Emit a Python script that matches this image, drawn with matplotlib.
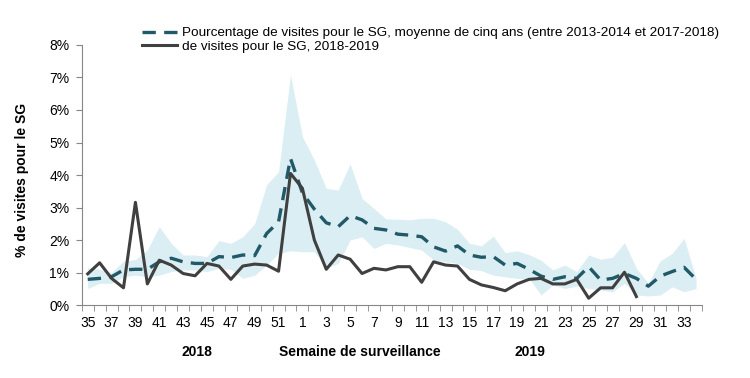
import numpy as np
import matplotlib.pyplot as plt
from matplotlib.ticker import FixedLocator, PercentFormatter

# surveillance weeks: 35..52 of 2018 then 1..34 of 2019
weeks = list(range(35, 53)) + list(range(1, 35))

# five-year average (%)
avg_pct = [0.79, 0.82, 0.87, 1.08, 1.10, 1.10, 1.33, 1.44, 1.33, 1.28, 1.28, 1.49,
           1.46, 1.54, 1.52, 2.20, 2.56, 4.51,
           3.45, 2.95, 2.53, 2.41, 2.75, 2.62, 2.36, 2.31, 2.18, 2.15, 2.10, 1.79,
           1.66, 1.82, 1.54, 1.47, 1.49, 1.23, 1.28, 1.10, 0.89, 0.79, 0.87, 0.82,
           1.18, 0.77, 0.82, 0.97, 0.82, 0.58, 0.89, 1.03, 1.16, 0.79]

# min / max range over the five seasons (%)
band_high = [1.15, 1.10, 1.00, 1.35, 1.40, 1.70, 2.41, 1.90, 1.54, 1.54, 1.49, 1.98,
             1.90, 2.10, 2.50, 3.70, 4.10, 7.08,
             5.18, 4.46, 3.59, 3.54, 4.34, 3.28, 2.97, 2.65, 2.64, 2.62, 2.67, 2.67,
             2.56, 2.33, 1.90, 1.82, 2.12, 1.61, 1.67, 1.55, 1.38, 1.08, 1.23, 1.03,
             1.54, 1.41, 1.47, 1.92, 1.13, 0.67, 1.36, 1.59, 2.05, 0.82]
band_low = [0.51, 0.67, 0.67, 0.87, 0.92, 0.87, 0.92, 1.03, 1.08, 1.08, 1.03, 1.13,
            1.10, 0.82, 0.92, 1.23, 1.59, 1.67,
            1.64, 1.64, 1.13, 1.28, 2.00, 2.10, 1.74, 1.90, 1.85, 1.77, 1.69, 1.38,
            1.33, 1.28, 1.10, 1.06, 0.92, 0.87, 0.82, 0.82, 0.31, 0.62, 0.51, 0.58,
            0.51, 0.46, 0.41, 0.67, 0.31, 0.28, 0.31, 0.56, 0.41, 0.51]

# 2018-2019 season (%), up to week 29
season_pct = [0.96, 1.30, 0.82, 0.53, 3.16, 0.65, 1.38, 1.23, 0.97, 0.90, 1.28, 1.20,
              0.79, 1.20, 1.26, 1.23, 1.04, 4.05,
              3.59, 2.00, 1.10, 1.54, 1.41, 0.97, 1.13, 1.08, 1.18, 1.18, 0.70, 1.33,
              1.23, 1.20, 0.79, 0.62, 0.54, 0.44, 0.65, 0.79, 0.82, 0.65, 0.65, 0.79,
              0.21, 0.53, 0.53, 1.01, 0.26]

plt.rcParams['font.family'] = ['Liberation Sans', 'DejaVu Sans']

x = np.arange(len(weeks))
x_season = np.arange(len(season_pct))

fig = plt.figure(figsize=(7.5, 3.78), dpi=100)
ax = fig.add_axes([0.109, 0.193, 0.827, 0.688])

ax.fill_between(x, band_low, band_high, color='#daeef3', linewidth=0, zorder=1)
ax.plot(x, avg_pct, color='#215968', linestyle=(0, (4, 2.5)), linewidth=2.4,
        label='Pourcentage de visites pour le SG, moyenne de cinq ans (entre 2013-2014 et 2017-2018)',
        zorder=3)
ax.plot(x_season, season_pct, color='#404040', linewidth=2.2,
        label='de visites pour le SG, 2018-2019', zorder=4)

ax.set_xlim(-0.5, len(weeks) - 0.5)
ax.set_ylim(0, 8)

# labels every 2nd week, tick marks on category boundaries
ax.set_xticks(x[::2])
ax.set_xticklabels([str(w) for w in weeks[::2]], fontsize=10)
ax.xaxis.set_minor_locator(FixedLocator(np.arange(-0.5, len(weeks), 1)))
ax.tick_params(axis='x', which='major', length=0, pad=8)
ax.tick_params(axis='x', which='minor', length=4, color='#868686')

ax.set_yticks(np.arange(0, 9, 1))
ax.yaxis.set_major_formatter(PercentFormatter(decimals=0))
ax.tick_params(axis='y', length=4, color='#868686', labelsize=10, pad=5)

for side in ['top', 'right']:
    ax.spines[side].set_visible(False)
for side in ['left', 'bottom']:
    ax.spines[side].set_color('#868686')

ax.set_ylabel('% de visites pour le SG', fontsize=10, fontweight='bold', labelpad=12)
ax.yaxis.set_label_coords(-0.085, 0.48)

fig.text(197 / 750, 1 - 352 / 378, '2018', fontsize=10,
         fontweight='bold', ha='center', va='center')
fig.text(360 / 750, 1 - 352 / 378, 'Semaine de surveillance',
         fontsize=10, fontweight='bold', ha='center', va='center')
fig.text(530 / 750, 1 - 352 / 378, '2019', fontsize=10,
         fontweight='bold', ha='center', va='center')

fig.legend(loc='upper left', bbox_to_anchor=(142 / 750, 1 - 27 / 378), frameon=False,
           fontsize=9.7, handlelength=2.6, handletextpad=0.4, labelspacing=0.1,
           borderaxespad=0, borderpad=0)

fig.savefig('out.png', dpi=100)
